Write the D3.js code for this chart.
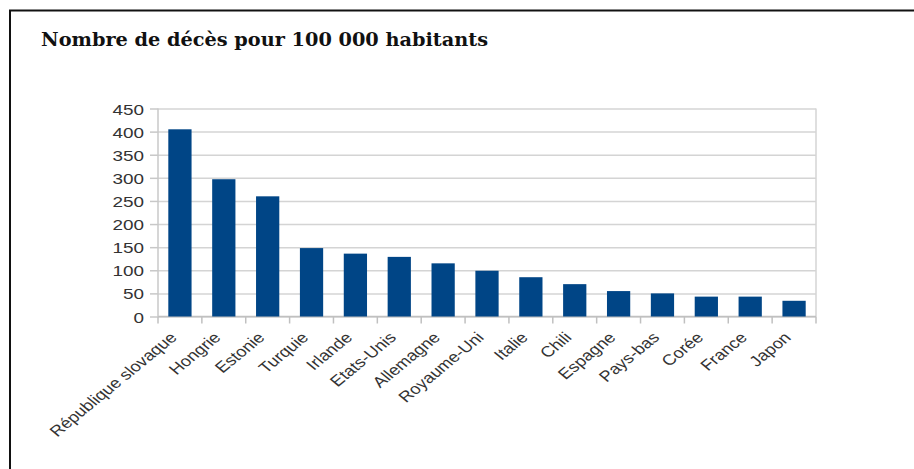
<!DOCTYPE html>
<html>
<head>
<meta charset="utf-8">
<script src="https://cdn.jsdelivr.net/npm/d3@7"></script>
<style>
  body { margin: 0; background: #fff; }
  svg { display: block; }
</style>
</head>
<body>
<div id="chart"></div>
<script>
// data
var pays = ["République slovaque", "Hongrie", "Estonie", "Turquie", "Irlande", "Etats-Unis",
  "Allemagne", "Royaume-Uni", "Italie", "Chili", "Espagne", "Pays-bas", "Corée", "France", "Japon"];
var deces = [405, 297, 260, 148, 136, 129, 115, 99, 85, 70, 55, 50, 43, 43, 34];
var yTicks = [0, 50, 100, 150, 200, 250, 300, 350, 400, 450];
var titre = "Nombre de décès pour 100 000 habitants";

var width = 914, height = 469;
var plotLeft = 158, plotRight = 816, plotTop = 108.5, plotBottom = 316.5;
var stretch = 1.22; // the screenshot is a bit wider than tall

var svg = d3.select("#chart").append("svg")
  .attr("width", width)
  .attr("height", height);

// frame (top and left edges only, like the cropped screenshot)
svg.append("line").attr("x1", 9).attr("x2", width).attr("y1", 10.5).attr("y2", 10.5)
  .attr("stroke", "#111").attr("stroke-width", 2);
svg.append("line").attr("x1", 10).attr("x2", 10).attr("y1", 10).attr("y2", height)
  .attr("stroke", "#111").attr("stroke-width", 2);

svg.append("text")
  .attr("x", 41).attr("y", 46)
  .style("font-family", "'DejaVu Serif', serif")
  .style("font-weight", "bold")
  .style("font-size", "18px")
  .attr("textLength", 447)
  .attr("lengthAdjust", "spacingAndGlyphs")
  .attr("fill", "#111")
  .text(titre);

var x = d3.scaleBand().domain(pays).range([plotLeft, plotRight]).paddingInner(0.47).paddingOuter(0.235);
var xb = d3.scaleBand().domain(pays).range([plotLeft, plotRight]);
var y = d3.scaleLinear().domain([0, 450]).range([plotBottom, plotTop]);

// gridlines + y axis
var yAxis = svg.append("g")
  .attr("transform", "translate(" + plotLeft + ",0)")
  .call(d3.axisLeft(y).tickValues(yTicks).tickSize(-(plotRight - plotLeft)).tickFormat(""));
yAxis.select(".domain").remove();
yAxis.selectAll("line").attr("stroke", "#d4d4d4").attr("stroke-width", 1.5);
yAxis.selectAll(".tick").append("line")
  .attr("x1", -8).attr("x2", 0)
  .attr("stroke", "#c8c8c8").attr("stroke-width", 1.5);
yAxis.selectAll(".tick").append("text")
  .attr("transform", "translate(-14,0) scale(" + stretch + ",1)")
  .attr("dy", "0.36em")
  .attr("text-anchor", "end")
  .style("font-family", "'Liberation Sans', Arial, sans-serif")
  .style("font-size", "15.5px")
  .attr("fill", "#333")
  .text(function(d) { return d; });

// right border of the plot
svg.append("line").attr("x1", plotRight).attr("x2", plotRight).attr("y1", plotTop).attr("y2", plotBottom)
  .attr("stroke", "#d4d4d4").attr("stroke-width", 1.5);

// x axis ticks at the category edges
var edges = pays.map(function(p) { return xb(p); }).concat([plotRight]);
svg.append("g").selectAll("line")
  .data(edges)
  .enter().append("line")
  .attr("x1", function(d) { return d; }).attr("x2", function(d) { return d; })
  .attr("y1", plotBottom).attr("y2", plotBottom + 7)
  .attr("stroke", "#c0c0c0").attr("stroke-width", 1.5);
svg.append("line").attr("x1", plotLeft).attr("x2", plotRight).attr("y1", plotBottom).attr("y2", plotBottom)
  .attr("stroke", "#c0c0c0").attr("stroke-width", 1.5);
svg.append("line").attr("x1", plotLeft).attr("x2", plotLeft).attr("y1", plotTop).attr("y2", plotBottom)
  .attr("stroke", "#c8c8c8").attr("stroke-width", 1.5);

// bars
svg.append("g").selectAll("rect")
  .data(deces)
  .enter().append("rect")
  .attr("x", function(d, i) { return x(pays[i]); })
  .attr("y", function(d) { return y(d); })
  .attr("width", x.bandwidth())
  .attr("height", function(d) { return plotBottom - y(d); })
  .attr("fill", "#004586");

// rotated category labels
svg.append("g").selectAll("text")
  .data(pays)
  .enter().append("text")
  .attr("transform", function(d) {
    return "translate(" + (xb(d) + xb.bandwidth() / 2 - 2) + "," + (plotBottom + 22) + ") scale(" + stretch + ",1) rotate(-45)";
  })
  .attr("text-anchor", "end")
  .style("font-family", "'Liberation Sans', Arial, sans-serif")
  .style("font-size", "15px")
  .attr("fill", "#333")
  .text(function(d) { return d; });
</script>
</body>
</html>
